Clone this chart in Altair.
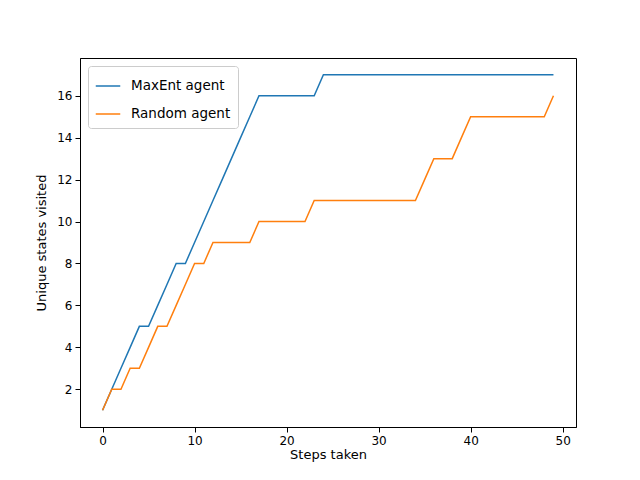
import altair as alt
import pandas as pd

steps = list(range(50))
maxent = [1,2,3,4,5,5,6,7,8,8,9,10,11,12,13,14,15,16,16,16,16,16,16,16] + [17]*26
rand = [1,2,2,3,3,4,5,5,6,7,8,8,9,9,9,9,9,10,10,10,10,10,10] + [11]*12 + [12,13,13,13,14] + [15]*9 + [16]

rows = []
for s, a, b in zip(steps, maxent, rand):
    rows.append({"step": s, "val": a, "agent": "MaxEnt agent"})
    rows.append({"step": s, "val": b, "agent": "Random agent"})
df = pd.DataFrame(rows)

font = "DejaVu Sans"
chart = alt.Chart(df).mark_line(strokeWidth=1.5, clip=True).encode(
    x=alt.X("step:Q", title="Steps taken",
            scale=alt.Scale(domain=[-2.45, 51.45], nice=False, zero=False),
            axis=alt.Axis(values=[0,10,20,30,40,50], grid=False, tickColor="black",
                          domainColor="black", labelColor="black", titleColor="black",
                          titlePadding=2)),
    y=alt.Y("val:Q", title="Unique states visited",
            scale=alt.Scale(domain=[0.2, 17.8], nice=False, zero=False),
            axis=alt.Axis(values=[2,4,6,8,10,12,14,16], grid=False, tickColor="black",
                          domainColor="black", labelColor="black", titleColor="black",
                          titlePadding=8)),
    color=alt.Color("agent:N", title=None,
                    scale=alt.Scale(domain=["MaxEnt agent","Random agent"], range=["#1f77b4","#ff7f0e"]),
                    legend=alt.Legend(orient="top-left", symbolType="stroke", symbolSize=600,
                                      strokeColor="#cccccc", fillColor="white", padding=7,
                                      cornerRadius=3, labelFontSize=13.5, labelFont=font,
                                      symbolStrokeWidth=1.5, offset=8, rowPadding=8,
                                      labelOffset=10)),
).properties(width=496, height=369, autosize="none",
             padding={"left":72, "top":50, "right":56, "bottom":45}
).configure_view(stroke="black", strokeWidth=1
).configure_axis(labelFont=font, titleFont=font, labelFontSize=12, titleFontSize=13,
                 titleFontWeight="normal", tickSize=5, labelPadding=3)

chart.save("out.html", embed_options={"renderer": "svg", "actions": False})
